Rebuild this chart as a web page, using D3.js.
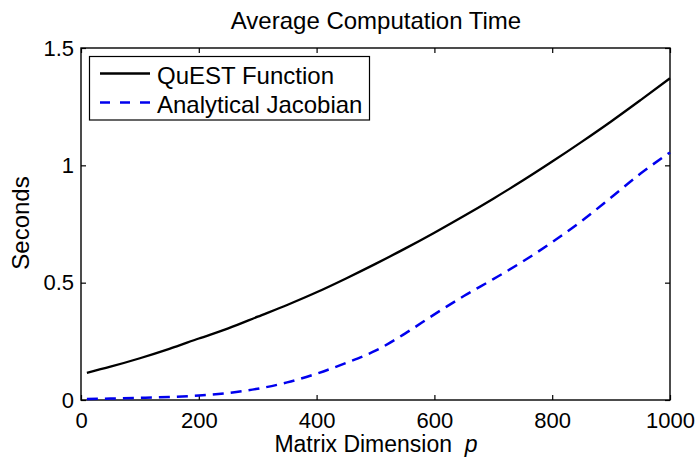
<!DOCTYPE html>
<html>
<head>
<meta charset="utf-8">
<script src="https://cdn.jsdelivr.net/npm/d3@7"></script>
<style>
  body { margin: 0; background: #fff; }
  text { font-family: "Liberation Sans", Arial, Helvetica, sans-serif; fill: #000; }
</style>
</head>
<body>
<svg id="chart" width="699" height="457"></svg>
<script>
// values
const dims = [10, 50, 100, 150, 200, 250, 300, 350, 400, 450, 500, 550, 600, 650, 700, 750, 800, 850, 900, 950, 1000];
const questTime = [0.116, 0.142, 0.178, 0.218, 0.262, 0.305, 0.355, 0.405, 0.459, 0.518, 0.580, 0.645, 0.713, 0.784, 0.858, 0.935, 1.016, 1.100, 1.187, 1.278, 1.371];
const jacobianTime = [0.004, 0.006, 0.009, 0.013, 0.019, 0.030, 0.048, 0.075, 0.112, 0.158, 0.210, 0.283, 0.365, 0.443, 0.515, 0.590, 0.673, 0.763, 0.863, 0.965, 1.055];
const xTicks = [0, 200, 400, 600, 800, 1000];
const yTicks = [0, 0.5, 1, 1.5];
const seriesNames = ['QuEST Function', 'Analytical Jacobian'];

let svg = d3.select('#chart');

let x = d3.scaleLinear().domain([0, 1000]).range([81, 670]);
let y = d3.scaleLinear().domain([0, 1.5]).range([400, 48]);

// inward ticks on all four sides, like a matlab box
svg.append('g')
  .attr('transform', 'translate(0,' + y(0) + ')')
  .call(d3.axisBottom(x).tickValues(xTicks).tickSize(-5).tickPadding(12).tickFormat(d3.format('d')))
  .call(g => g.select('.domain').remove())
  .call(g => g.selectAll('text').attr('font-size', 22).attr('font-family', null));

svg.append('g')
  .attr('transform', 'translate(0,' + y(1.5) + ')')
  .call(d3.axisTop(x).tickValues(xTicks).tickSize(-5).tickFormat(''))
  .call(g => g.select('.domain').remove());

svg.append('g')
  .attr('transform', 'translate(' + x(0) + ',0)')
  .call(d3.axisLeft(y).tickValues(yTicks).tickSize(-5).tickPadding(7).tickFormat(d => String(d)))
  .call(g => g.select('.domain').remove())
  .call(g => g.selectAll('text').attr('font-size', 22).attr('font-family', null));

svg.append('g')
  .attr('transform', 'translate(' + x(1000) + ',0)')
  .call(d3.axisRight(y).tickValues(yTicks).tickSize(-5).tickFormat(''))
  .call(g => g.select('.domain').remove());

svg.selectAll('.tick line').attr('stroke', '#000').attr('stroke-width', 1.2);

svg.append('rect')
  .attr('x', x(0)).attr('y', y(1.5))
  .attr('width', x(1000) - x(0)).attr('height', y(0) - y(1.5))
  .attr('fill', 'none').attr('stroke', '#000').attr('stroke-width', 1.4);

// lines
let line = d3.line()
  .x((d, i) => x(dims[i]))
  .y(d => y(d))
  .curve(d3.curveMonotoneX);

svg.append('path')
  .datum(questTime)
  .attr('d', line)
  .attr('fill', 'none').attr('stroke', '#000').attr('stroke-width', 2.3);

svg.append('path')
  .datum(jacobianTime)
  .attr('d', line)
  .attr('fill', 'none').attr('stroke', '#0000ee').attr('stroke-width', 2.5)
  .attr('stroke-dasharray', '11,7');

// legend
let legend = svg.append('g');
legend.append('rect')
  .attr('x', 89.5).attr('y', 56.5).attr('width', 280).attr('height', 63.5)
  .attr('fill', '#fff').attr('stroke', '#000').attr('stroke-width', 1.2);

let rows = [
  {name: seriesNames[0], color: '#000', dash: null, w: 2.3, y: 73.5},
  {name: seriesNames[1], color: '#0000ee', dash: '10,10', w: 2.5, y: 102.5}
];
rows.forEach(function(r) {
  legend.append('line')
    .attr('x1', 100).attr('x2', 150).attr('y1', r.y).attr('y2', r.y)
    .attr('stroke', r.color).attr('stroke-width', r.w)
    .attr('stroke-dasharray', r.dash);
  legend.append('text')
    .attr('x', 157).attr('y', r.y + 10)
    .attr('font-size', 24)
    .text(r.name);
});

// titles
svg.append('text')
  .attr('x', 376).attr('y', 29)
  .attr('text-anchor', 'middle').attr('font-size', 24)
  .text('Average Computation Time');

let xl = svg.append('text')
  .attr('x', 376).attr('y', 452)
  .attr('text-anchor', 'middle').attr('font-size', 23);
xl.append('tspan').text('Matrix Dimension\u00a0\u00a0');
xl.append('tspan').attr('font-style', 'italic').text('p');

svg.append('text')
  .attr('transform', 'translate(29,223) rotate(-90)')
  .attr('text-anchor', 'middle').attr('font-size', 24)
  .text('Seconds');
</script>
</body>
</html>
